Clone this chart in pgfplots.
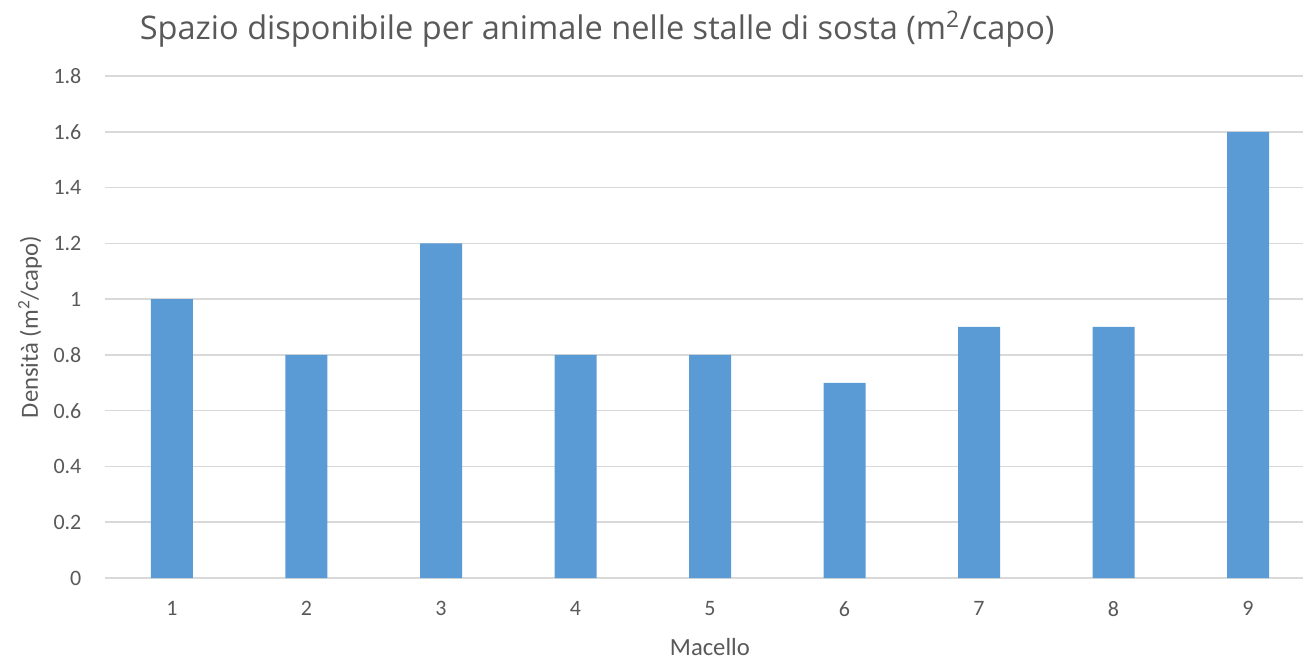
\documentclass[border=0pt]{standalone}
\usepackage{pgfplots}
\pgfplotsset{compat=1.18}
\usepackage{fontspec}
\setmainfont{Carlito}
\newfontfamily\titlefont{Open Sans}
\usetikzlibrary{calc}
\definecolor{barblue}{HTML}{5B9BD5}
\definecolor{gridgray}{HTML}{D9D9D9}
\definecolor{textgray}{HTML}{595959}
\def\px{0.75pt}

\begin{document}
\begin{tikzpicture}
\begin{axis}[
    name=ax,
    scale only axis,
    width=898.69pt, height=376.5pt,
    xmin=0.5, xmax=9.409,
    ymin=0, ymax=1.8,
    ybar, bar width=31.5pt,
    xtick={1,2,3,4,5,6,7,8,9},
    ytick={0,0.2,0.4,0.6,0.8,1,1.2,1.4,1.6,1.8},
    /pgf/number format/assume math mode=true,
    axis line style={draw=none},
    major tick length=0pt,
    ymajorgrids=true,
    grid style={gridgray, line width=1.1pt},
    ticklabel style={font=\fontsize{16.5}{18}\selectfont, text=textgray},
    yticklabel style={xshift=-14pt},
    xticklabel style={yshift=-14pt},
    xlabel={Macello},
    ylabel={Densità (m\textsuperscript{2}/capo)},
    label style={font=\fontsize{18.5}{20}\selectfont, text=textgray},
    xlabel style={at={(axis description cs:0.505,-0.1374)}, anchor=center},
    ylabel style={at={(axis description cs:-0.0624,0.5)}, anchor=center},
    title={Spazio disponibile per animale nelle stalle di sosta (m\textsuperscript{2}/capo)},
    title style={at={(axis description cs:0.411,1.056)}, anchor=base,
        font=\titlefont\fontsize{24.4}{28}\selectfont, text=textgray},
]
\addplot[fill=barblue, draw=none] coordinates {
    (1,1.0) (2,0.8) (3,1.2) (4,0.8) (5,0.8) (6,0.7) (7,0.9) (8,0.9) (9,1.6)
};
\end{axis}
\pgfresetboundingbox
\path[use as bounding box] ($(ax.south west)+(-104.75*\px,-82*\px)$) rectangle ($(ax.north east)+(0,76*\px)$);
\end{tikzpicture}
\end{document}
